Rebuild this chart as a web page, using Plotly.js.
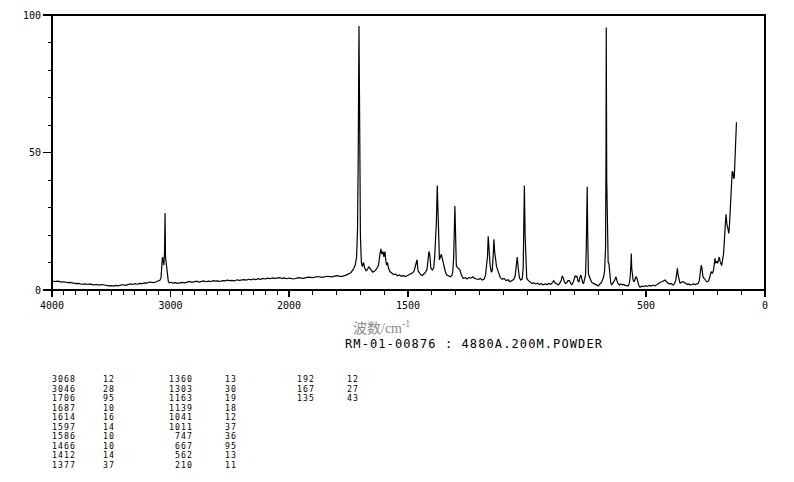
<!DOCTYPE html>
<html>
<head>
<meta charset="utf-8">
<script src="https://cdn.plot.ly/plotly-3.0.1.min.js"></script>
<style>html,body{margin:0;padding:0;background:#fff;}#chart{width:794px;height:482px;}</style>
</head>
<body>
<div id="chart"></div>
<script>
// Raman spectrum (wavenumber in cm-1, relative intensity)
const wavenumber = [4000,3980,3950,3920,3900,3870,3850,3820,3800,3780,3750,3720,3700,3680,3650,3620,3600,3580,3550,3520,3500,3480,3460,3440,3420,3400,3380,3360,3340,3320,3300,3280,3260,3240,3220,3200,3180,3160,3140,3120,3100,3090,3080,3074,3068,3062,3056,3050,3046,3042,3036,3030,3024,3018,3010,3000,2980,2960,2940,2920,2900,2880,2860,2840,2820,2800,2780,2760,2740,2720,2700,2680,2660,2640,2620,2600,2580,2560,2540,2520,2500,2480,2460,2440,2420,2400,2380,2360,2340,2320,2300,2280,2260,2240,2220,2200,2180,2160,2140,2120,2100,2080,2060,2040,2020,2000,
1980,1960,1940,1920,1900,1880,1860,1840,1820,1800,1780,1760,1750,1740,1730,1722,1716,1712,1709,1706,1703,1700,1696,1692,1687,1682,1676,1670,1665,1660,1654,1648,1642,1636,1630,1624,1618,1614,1610,1605,1601,1597,1593,1590,1586,1582,1576,1568,1560,1552,1544,1536,1528,1520,1512,1504,1496,1488,1480,1474,1470,1466,1462,1458,1452,1446,1440,1432,1426,1420,1416,1412,1408,1404,1398,1392,1388,1384,1381,1377,1374,1371,1368,1364,1360,1356,1350,1344,1338,1330,1322,1316,1312,1308,1305,1303,1300,1297,1293,1288,1282,1276,1268,1260,1252,1244,1236,1228,1220,1212,1204,1196,1188,1180,1174,1170,1166,1163,1160,1155,1150,1146,1142,1139,1136,1132,1128,1124,1118,1112,1104,1096,1088,1080,1072,1064,1056,1050,1046,1041,1037,1032,1026,1020,1016,1013,1011,1008,1005,1001,995,988,980,972,964,956,948,940,932,924,916,908,900,892,888,882,874,868,862,856,852,848,843,838,833,828,822,817,812,806,801,798,794,790,786,782,778,774,770,766,762,758,754,751,749,747,745,742,738,734,728,721,714,707,700,694,688,682,678,674,670,668,667,665,662,659,656,652,648,644,638,632,628,626,622,618,612,606,600,594,588,580,574,570,566,563,562,560,557,554,550,546,542,539,535,530,525,518,510,502,494,486,478,470,462,455,448,440,433,426,420,414,408,402,396,390,385,380,375,371,368,365,361,357,352,347,343,338,332,326,320,315,308,300,292,285,280,276,272,268,265,261,256,252,246,240,236,230,226,221,216,213,210,207,203,199,195,192,189,185,182,178,174,170,167,164,160,156,152,149,146,143,140,138,135,132,129,126,123,120];
const intensity = [3.3,3.1,3.2,2.9,3.0,2.7,2.8,2.5,2.3,2.4,2.1,2.2,2.0,2.2,1.9,2.0,1.8,2.0,1.7,1.5,1.6,1.4,1.7,1.5,1.8,1.9,1.7,2.0,2.2,2.0,2.3,2.1,2.4,2.3,2.6,2.5,2.9,2.8,2.7,3.0,3.2,3.5,4.5,7,12,10.5,9,14,28,12,10,8,4.5,3.0,2.6,2.8,2.5,2.7,2.4,2.6,2.8,2.6,2.9,3.1,2.8,3.0,3.2,2.9,3.1,3.3,3.0,3.2,3.1,3.4,3.2,3.3,3.1,3.4,3.3,3.6,3.4,3.5,3.3,3.7,3.5,3.6,3.8,3.6,3.9,3.7,4.0,3.8,4.1,3.9,4.2,4.0,4.3,4.1,4.4,4.2,4.3,4.5,4.2,4.4,4.1,4.3,
4.0,4.5,4.2,4.7,4.5,4.9,4.6,5.0,4.8,5.2,4.9,5.4,5.8,6.3,7.5,9,12,22,50,96,60,20,10,8.5,10,8,7,7.5,8.5,7.8,6.9,6.5,6.8,7.2,8.0,9,13,15,13,14,12,14,10.5,9,10,8,6.7,6.0,5.6,5.8,5.2,5.5,5.0,5.3,4.9,5.2,5.6,5.8,6.3,7.0,8.5,10,11,7,6,5.5,5.3,5.8,6.5,7.5,10,14,12.5,8,7.3,8,12,18,24,38,25,18,11,12,13,11.5,8.5,7,5.5,5.2,4.8,5.2,6.5,12,20,30.5,20,9,8.2,7.6,7.3,5.5,4.2,4.5,4.0,4.6,4.3,4.8,4.2,4.0,3.9,4.2,3.6,4.0,5.5,9,12,19.5,15,9,6.5,7,12.5,18.4,14,10,8.5,7.5,5.5,4.5,3.9,4.2,3.4,3.7,3.0,3.4,3.8,5,7.3,12,8,4.5,3.6,4.0,8,22,38,20,9,4.2,3.5,3.0,2.4,2.6,2.2,2.5,2.0,2.3,1.9,2.2,2.0,2.4,2.1,2.8,3.4,2.6,2.2,1.8,2.5,3.5,5.1,4.5,3.0,2.4,2.6,3.4,3.4,2.5,1.8,2.8,4.5,5.1,4.8,5.0,3.2,3.0,4.5,5.5,4.2,2.6,2.4,3.6,5.5,15,30,37.5,20,6,4.8,3.8,2.8,2.4,2.0,1.8,1.5,2.2,2.6,3.8,4.8,7,15,50,95.5,40,12,10,9.7,5,2.5,1.8,2.6,3.5,4.5,4.8,3.4,2.4,1.8,2.2,1.9,2.0,1.7,1.6,1.5,2.5,5,10,13.3,8,4,3.5,3.0,4.2,4.8,4.5,2.8,1.6,1.0,1.4,1.2,1.6,1.3,1.7,1.4,1.8,1.5,2.0,2.2,2.8,3.0,3.3,3.6,3.0,2.5,2.2,2.4,2.0,1.8,2.4,3.5,6,7.9,5.5,3.2,2.4,2.8,3.0,3.0,2.6,2.2,2.0,2.3,1.8,2.0,2.2,2.0,2.4,2.4,3.5,6,9,8,5,4.2,3.9,3.0,3.0,3.5,5.5,6.7,6.0,7.3,9.5,11.5,9.7,10.5,9.7,11,12,10.5,9,8.9,11,13.3,19,27,27.5,24,22,20.6,24,30,36,42,43,43,40.5,41,47,55,61];

// Peak table (wavenumber / intensity)
const peakWn  = [3068,3046,1706,1687,1614,1597,1586,1466,1412,1377,1360,1303,1163,1139,1041,1011,747,667,562,210,192,167,135];
const peakInt = [12,28,95,10,16,14,10,10,14,37,13,30,19,18,12,37,36,95,13,11,12,27,43];

// Axis labels
const xTicksHigh = [4000,3000];
const xTicksLow  = [2000,1500,500,0];
const yTicks = [0,50,100];
const xTitle = '波数/cm<sup>-1</sup>';
const sampleLabel = 'RM-01-00876 : 4880A.200M.POWDER';

const split = 2000;
const hx=[],hy=[],lx=[],ly=[];
wavenumber.forEach((w,i)=>{
  if(w>=split){hx.push(w);hy.push(intensity[i]);}
  if(w<=split){lx.push(w);ly.push(intensity[i]);}
});

const D = 237/713;
const mono = 'DejaVu Sans Mono, Liberation Mono, monospace';
const traces = [
  {x:hx,y:hy,xaxis:'x',yaxis:'y',type:'scatter',mode:'lines',line:{color:'#000',width:1.2},hoverinfo:'skip'},
  {x:lx,y:ly,xaxis:'x2',yaxis:'y',type:'scatter',mode:'lines',line:{color:'#000',width:1.2},hoverinfo:'skip'}
];

const axBase = {
  ticks:'outside',ticklen:6,tickwidth:1.5,tickcolor:'#000',
  showgrid:false,zeroline:false,showline:false,
  tickfont:{family:mono,size:10,color:'#000'},
  minor:{tickmode:'linear',tick0:0,dtick:100,ticks:'outside',ticklen:4,tickwidth:1,tickcolor:'#000',showgrid:false},
  anchor:'y',fixedrange:true
};

// pixel helpers for the free text below the plot
const L=52,R=765,T=15,B=290;
const px = v => (v-L)/(R-L);
const py = v => (B-v)/(B-T);
const spaced = (s,ls) => '<span style="letter-spacing:'+ls+'px">'+s+'</span>';

const ann = [];
ann.push({xref:'paper',yref:'paper',x:px(381),y:py(327),text:xTitle,showarrow:false,xanchor:'center',yanchor:'middle',
  font:{family:'Liberation Serif, Noto Sans CJK SC, serif',size:14,color:'#8a8a8a'}});
ann.push({xref:'paper',yref:'paper',x:px(343),y:py(344),text:spaced(sampleLabel,1.1),showarrow:false,xanchor:'left',yanchor:'middle',
  font:{family:mono,size:12,color:'#000'}});

const colW = [[77,102],[194,224],[316,346]];
peakWn.forEach((w,i)=>{
  const c = Math.floor(i/10), r = i%10;
  const yy = py(379 + r*9.56);
  ann.push({xref:'paper',yref:'paper',x:px(colW[c][0]),y:yy,text:spaced(String(w),1.1),showarrow:false,xanchor:'right',yanchor:'middle',borderpad:0,font:{family:mono,size:8.2,color:'#000'}});
  ann.push({xref:'paper',yref:'paper',x:px(colW[c][1]),y:yy,text:spaced(String(peakInt[i]),1.1),showarrow:false,xanchor:'left',yanchor:'middle',borderpad:0,font:{family:mono,size:8.2,color:'#000'}});
});

const layout = {
  width:794,height:482,
  margin:{l:L,r:794-R,t:T,b:482-B,pad:0},
  paper_bgcolor:'#fff',plot_bgcolor:'#fff',showlegend:false,
  xaxis:Object.assign({},axBase,{domain:[0,D],range:[4000,2000],tickmode:'array',tickvals:xTicksHigh,ticktext:xTicksHigh.map(String)}),
  xaxis2:Object.assign({},axBase,{domain:[D,1],range:[2000,0],tickmode:'array',tickvals:xTicksLow,ticktext:xTicksLow.map(String)}),
  yaxis:{domain:[0,1],range:[0,100],tickmode:'array',tickvals:yTicks,ticktext:yTicks.map(String),
    ticks:'outside',ticklen:8,tickwidth:1.5,tickcolor:'#000',showgrid:false,zeroline:false,showline:false,
    tickfont:{family:mono,size:10,color:'#000'},
    minor:{tickmode:'linear',tick0:0,dtick:10,ticks:'outside',ticklen:3,tickwidth:1,tickcolor:'#000',showgrid:false},
    anchor:'x',fixedrange:true},
  shapes:[{type:'rect',xref:'paper',yref:'paper',x0:0,x1:1,y0:0,y1:1,line:{color:'#000',width:2}}],
  annotations:ann
};

Plotly.newPlot('chart',traces,layout,{staticPlot:true,displayModeBar:false});
</script>
</body>
</html>
